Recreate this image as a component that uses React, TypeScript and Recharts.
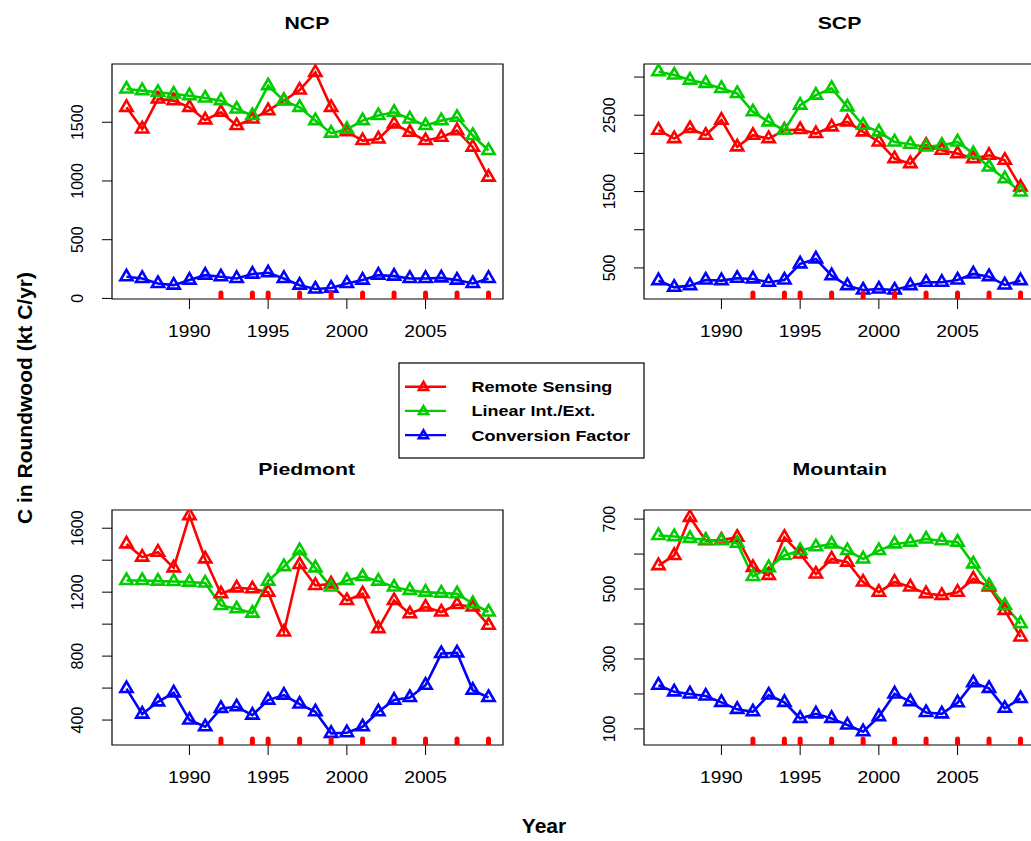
import React from 'react';
import { ComposedChart, Line, Scatter, XAxis, YAxis, ReferenceArea } from 'recharts';

const years = [1986, 1987, 1988, 1989, 1990, 1991, 1992, 1993, 1994, 1995, 1996, 1997, 1998, 1999, 2000, 2001, 2002, 2003, 2004, 2005, 2006, 2007, 2008, 2009];
const rugYears = [1992, 1994, 1995, 1997, 1999, 2001, 2003, 2005, 2007, 2009];
const xTicks = [1990, 1995, 2000, 2005];

const ncpRemote = [1627, 1443, 1698, 1684, 1627, 1520, 1585, 1472, 1528, 1599, 1684, 1774, 1924, 1627, 1420, 1344, 1358, 1486, 1415, 1344, 1372, 1429, 1288, 1033];
const ncpLinear = [1783, 1769, 1755, 1740, 1726, 1706, 1684, 1613, 1557, 1811, 1684, 1627, 1514, 1407, 1440, 1514, 1557, 1585, 1528, 1472, 1514, 1542, 1387, 1259];
const ncpFactor = [184, 170, 127, 113, 156, 198, 184, 170, 207, 218, 170, 113, 80, 88, 127, 156, 198, 190, 170, 170, 175, 156, 127, 170];

const scpRemote = [2304, 2194, 2326, 2238, 2435, 2085, 2238, 2194, 2304, 2313, 2260, 2348, 2413, 2282, 2150, 1932, 1866, 2107, 2041, 1997, 1932, 1975, 1910, 1559];
const scpLinear = [3070, 3026, 2960, 2917, 2851, 2785, 2545, 2413, 2304, 2632, 2763, 2851, 2610, 2369, 2282, 2150, 2120, 2085, 2107, 2150, 1997, 1822, 1669, 1494];
const scpFactor = [334, 246, 268, 342, 334, 364, 356, 312, 342, 553, 618, 399, 268, 211, 224, 211, 268, 312, 312, 342, 421, 386, 277, 334];

const pieRemote = [1502, 1419, 1450, 1352, 1679, 1408, 1190, 1227, 1221, 1200, 951, 1373, 1242, 1252, 1148, 1190, 972, 1148, 1065, 1107, 1076, 1123, 1107, 993];
const pieLinear = [1273, 1273, 1269, 1267, 1263, 1257, 1117, 1096, 1069, 1269, 1360, 1460, 1352, 1232, 1273, 1298, 1269, 1232, 1211, 1200, 1194, 1190, 1128, 1076];
const pieFactor = [597, 437, 514, 570, 400, 358, 473, 483, 431, 525, 556, 500, 452, 317, 321, 358, 452, 525, 541, 618, 816, 820, 587, 541];

const mtnRemote = [567, 596, 705, 638, 640, 648, 562, 539, 648, 600, 543, 586, 577, 520, 491, 520, 506, 487, 482, 491, 529, 506, 439, 363];
const mtnLinear = [653, 650, 645, 640, 638, 631, 536, 561, 596, 610, 621, 629, 610, 586, 610, 629, 634, 643, 638, 634, 572, 510, 453, 401];
const mtnFactor = [225, 206, 200, 194, 176, 156, 149, 197, 176, 130, 143, 130, 111, 92, 135, 200, 178, 147, 143, 175, 232, 216, 159, 187];

const legendLabels = ['Remote Sensing', 'Linear Int./Ext.', 'Conversion Factor'];

const RED = '#FF0000';
const GREEN = '#00CD00';
const BLUE = '#0000FF';
const FONT = '"Liberation Sans", Arial, Helvetica, sans-serif';

const X_DOMAIN: [number, number] = [1985.08, 2009.92];
const PLOT_W = 391;
const PLOT_H = 235;

const triangle = (color: string, size = 1) => (props: any) => {
  const { cx, cy, index } = props;
  if (cx == null || cy == null) return <g key={index} />;
  const hw = 6.1 * size;
  return (
    <path
      key={index}
      d={`M${cx},${cy - 7 * size}L${cx + hw},${cy + 3.5 * size}L${cx - hw},${cy + 3.5 * size}Z`}
      fill="none"
      stroke={color}
      strokeWidth={2.6}
      strokeLinejoin="miter"
    />
  );
};

// rug tick along the bottom of the box
const RugMark = (props: any) => {
  const { cx, cy } = props;
  return <rect x={cx - 2.5} y={cy - 8.5} width={5} height={12} rx={2.5} fill={RED} />;
};

const XTick = (props: any) => {
  const { x, y, payload } = props;
  return (
    <text transform={`translate(${x},${y + 27.5}) scale(1.2,1)`} textAnchor="middle" fontSize={16} fontFamily={FONT} fill="#000">
      {payload.value}
    </text>
  );
};

const makeYTick = (labels: number[]) => (props: any) => {
  const { x, y, payload } = props;
  if (!labels.includes(payload.value)) return <g />;
  const tx = x - 19;
  return (
    <text x={tx} y={y} transform={`rotate(-90, ${tx}, ${y})`} textAnchor="middle" fontSize={16} fontFamily={FONT} fill="#000">
      {payload.value}
    </text>
  );
};

interface PanelProps {
  title: string;
  left: number;
  top: number;
  remote: number[];
  linear: number[];
  factor: number[];
  yDomain: [number, number];
  yTicks: number[];
  yLabels: number[];
}

function Panel({ title, left, top, remote, linear, factor, yDomain, yTicks, yLabels }: PanelProps) {
  const data = years.map((year, i) => ({ year, rs: remote[i], li: linear[i], cf: factor[i] }));
  const rugData = rugYears.map((year) => ({ year, rug: yDomain[0] }));

  return (
    <>
      <div
        style={{
          position: 'absolute',
          left: left,
          top: top - 50,
          width: PLOT_W,
          textAlign: 'center',
          fontFamily: FONT,
          fontWeight: 'bold',
          fontSize: 17,
          lineHeight: '20px',
        }}
      >
        <span style={{ display: 'inline-block', transform: 'scaleX(1.25)' }}>{title}</span>
      </div>
      <div style={{ position: 'absolute', left: left - 100, top: top - 60 }}>
        <ComposedChart
          width={PLOT_W + 130}
          height={PLOT_H + 110}
          data={data}
          margin={{ top: 60, right: 30, bottom: 0, left: 40 }}
        >
          <XAxis
            dataKey="year"
            type="number"
            domain={X_DOMAIN}
            ticks={xTicks}
            allowDataOverflow
            axisLine={false}
            tickLine={{ stroke: '#000', strokeWidth: 1 }}
            tickSize={10}
            tickMargin={0}
            height={50}
            tick={<XTick />}
            interval={0}
          />
          <YAxis
            type="number"
            domain={yDomain}
            ticks={yTicks}
            allowDataOverflow
            axisLine={false}
            tickLine={{ stroke: '#000', strokeWidth: 1 }}
            tickSize={10}
            tickMargin={0}
            width={60}
            tick={makeYTick(yLabels)}
            interval={0}
          />
          <ReferenceArea x1={X_DOMAIN[0]} x2={X_DOMAIN[1]} y1={yDomain[0]} y2={yDomain[1]} fill="none" stroke="#000" strokeWidth={1.2} ifOverflow="visible" />
          <Line type="linear" dataKey="rs" stroke={RED} strokeWidth={2.6} dot={triangle(RED)} activeDot={false} isAnimationActive={false} />
          <Line type="linear" dataKey="li" stroke={GREEN} strokeWidth={2.6} dot={triangle(GREEN)} activeDot={false} isAnimationActive={false} />
          <Line type="linear" dataKey="cf" stroke={BLUE} strokeWidth={2.6} dot={triangle(BLUE)} activeDot={false} isAnimationActive={false} />
          <Scatter data={rugData} dataKey="rug" shape={<RugMark />} isAnimationActive={false} />
        </ComposedChart>
      </div>
    </>
  );
}

function LegendBox() {
  const colors = [RED, GREEN, BLUE];
  return (
    <svg style={{ position: 'absolute', left: 398, top: 362 }} width={248} height={98}>
      <rect x={1} y={1} width={245} height={95} fill="#fff" stroke="#000" strokeWidth={1.2} />
      {legendLabels.map((label, i) => {
        const cy = 24.7 + i * 24.2;
        return (
          <g key={label}>
            <line x1={7} x2={48} y1={cy} y2={cy} stroke={colors[i]} strokeWidth={2.4} />
            {triangle(colors[i], 0.75)({ cx: 25.5, cy: cy + 0.5, index: i })}
            <text
              transform={`translate(73.5,${cy + 5.4}) scale(1.2,1)`}
              fontSize={15}
              fontWeight="bold"
              fontFamily={FONT}
              fill="#000"
            >
              {label}
            </text>
          </g>
        );
      })}
    </svg>
  );
}

export default function App() {
  return (
    <div
      style={{
        position: 'absolute',
        left: 0,
        top: 0,
        width: 1031,
        height: 841,
        overflow: 'hidden',
        background: '#fff',
      }}
    >
      <Panel title="NCP" left={111.7} top={64} remote={ncpRemote} linear={ncpLinear} factor={ncpFactor}
        yDomain={[-5, 1996]} yTicks={[0, 500, 1000, 1500]} yLabels={[0, 500, 1000, 1500]} />
      <Panel title="SCP" left={644} top={64} remote={scpRemote} linear={scpLinear} factor={scpFactor}
        yDomain={[93, 3171]} yTicks={[500, 1000, 1500, 2000, 2500, 3000]} yLabels={[500, 1500, 2500]} />
      <Panel title="Piedmont" left={111.7} top={509.5} remote={pieRemote} linear={pieLinear} factor={pieFactor}
        yDomain={[244, 1714]} yTicks={[400, 600, 800, 1000, 1200, 1400, 1600]} yLabels={[400, 800, 1200, 1600]} />
      <Panel title="Mountain" left={644} top={509.5} remote={mtnRemote} linear={mtnLinear} factor={mtnFactor}
        yDomain={[54, 726]} yTicks={[100, 200, 300, 400, 500, 600, 700]} yLabels={[100, 300, 500, 700]} />
      <LegendBox />
      <div
        style={{
          position: 'absolute',
          left: 25,
          top: 398,
          transform: 'translate(-50%, -50%) rotate(-90deg)',
          whiteSpace: 'nowrap',
          fontFamily: FONT,
          fontWeight: 'bold',
          fontSize: 21,
          lineHeight: '24px',
        }}
      >
        C in Roundwood (kt C/yr)
      </div>
      <div
        style={{
          position: 'absolute',
          left: 444,
          width: 200,
          top: 814,
          textAlign: 'center',
          fontFamily: FONT,
          fontWeight: 'bold',
          fontSize: 21,
          lineHeight: '24px',
        }}
      >
        Year
      </div>
    </div>
  );
}
